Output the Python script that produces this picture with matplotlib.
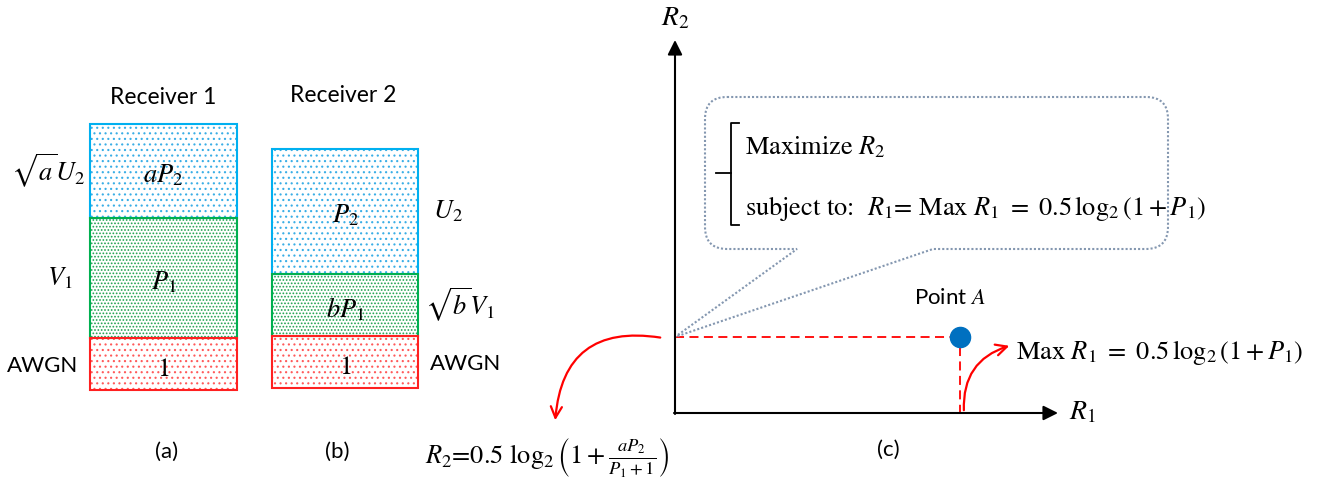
import matplotlib
matplotlib.use("Agg")
import matplotlib.pyplot as plt
from matplotlib.patches import Rectangle, PathPatch, FancyArrowPatch
from matplotlib.path import Path

plt.rcParams['mathtext.fontset'] = 'stix'
plt.rcParams['font.family'] = ['Lato', 'DejaVu Sans']
plt.rcParams['hatch.linewidth'] = 0.8

# stacked power boxes (pixel rows of the drawing, top to bottom)
rx1_edges = [124, 218, 338, 390]
rx1_labels = [r'$aP_2$', r'$P_1$', r'$1$']
rx1_side = [r'$\sqrt{a}U_2$', r'$V_1$', 'AWGN']
rx2_edges = [149, 274, 336, 388]
rx2_labels = [r'$P_2$', r'$bP_1$', r'$1$']
rx2_side = [r'$U_2$', r'$\sqrt{b}V_1$', 'AWGN']

edge_cols = ['#00B0F0', '#00B050', '#FF2020']
dot_cols = ['#3AAEE6', '#1FA050', '#FF5A5A']
hatches = ['...', '.....', '...']

serif = ['STIXGeneral', 'DejaVu Serif']

fig = plt.figure(figsize=(13.26, 4.86), dpi=100)
ax = fig.add_axes([0, 0, 1, 1])
ax.set_xlim(0, 1326)
ax.set_ylim(486, 0)
ax.axis('off')


def draw_stack(x0, x1, edges, labels, sides, side_x):
    for i in range(3):
        y0, y1 = edges[i], edges[i + 1]
        ax.add_patch(Rectangle((x0, y0), x1 - x0, y1 - y0, facecolor='white',
                               edgecolor=dot_cols[i], hatch=hatches[i], lw=0))
    for i in range(3):
        y0, y1 = edges[i], edges[i + 1]
        ax.add_patch(Rectangle((x0, y0), x1 - x0, y1 - y0, facecolor='none',
                               edgecolor=edge_cols[i], lw=1.5, zorder=3))
        cy = (y0 + y1) / 2 + 4
        ax.text((x0 + x1) / 2, cy, labels[i], fontsize=19, ha='center', va='center', zorder=4)
        if sides[i] == 'AWGN':
            ax.text(side_x[i], cy - 2, sides[i], fontsize=16, ha='center', va='center')
        else:
            ax.text(side_x[i], cy - 4, sides[i], fontsize=19, ha='center', va='center')


draw_stack(90, 237, rx1_edges, rx1_labels, rx1_side, [48, 60, 43])
draw_stack(272, 418, rx2_edges, rx2_labels, rx2_side, [448, 460, 466])

ax.text(163, 97, 'Receiver 1', fontsize=16.5, ha='center', va='center')
ax.text(343, 95, 'Receiver 2', fontsize=16.5, ha='center', va='center')
ax.text(167, 452, '(a)', fontsize=16, ha='center', va='center')
ax.text(337, 452, '(b)', fontsize=16, ha='center', va='center')
ax.text(888, 450, '(c)', fontsize=16, ha='center', va='center')

# rate region axes
ox, oy = 675, 413
ax.annotate('', xy=(ox, 40), xytext=(ox, oy + 1),
            arrowprops=dict(arrowstyle='-|>', color='black', lw=1.5, mutation_scale=22,
                            shrinkA=0, shrinkB=0))
ax.annotate('', xy=(1058, oy), xytext=(ox - 1, oy),
            arrowprops=dict(arrowstyle='-|>', color='black', lw=1.5, mutation_scale=22,
                            shrinkA=0, shrinkB=0))
ax.text(675, 18, r'$R_2$', fontsize=20, ha='center', va='center')
ax.text(1082, 412, r'$R_1$', fontsize=20, ha='center', va='center')

# point A
point_a = (960, 337)
ax.plot([ox, point_a[0] - 10], [point_a[1], point_a[1]], color='red', ls='--', lw=1.3, dashes=(5, 3))
ax.plot([point_a[0], point_a[0]], [point_a[1] + 10, oy], color='red', ls='--', lw=1.3, dashes=(5, 3))
ax.plot([point_a[0]], [point_a[1]], 'o', color='#0070C0', markersize=14.5, zorder=5)
ax.text(950, 298, r'Point $A$', fontsize=16, ha='center', va='center')

# curved red arrows
ax.add_patch(FancyArrowPatch((663, 338), (555, 423), connectionstyle='arc3,rad=0.55',
                             arrowstyle='->', mutation_scale=20, color='red', lw=1.6))
ax.add_patch(FancyArrowPatch((964, 413), (1012, 345), connectionstyle='arc3,rad=-0.4',
                             arrowstyle='->', mutation_scale=20, color='red', lw=1.6))
ax.text(1016, 352, r'Max $R_1\ =\ 0.5\,\log_2(1+P_1)$', fontsize=19,
        family=serif, ha='left', va='center')
ax.text(425, 457, r'$R_2$=0.5 $\log_2\left(1+\frac{aP_2}{P_1+1}\right)$', fontsize=19,
        family=serif, ha='left', va='center')

# callout box with tail
l, r, t, b, rad = 705, 1168, 97, 249, 22
verts = [(l + rad, t), (r - rad, t), (r, t), (r, t + rad), (r, b - rad), (r, b), (r - rad, b),
         (933, b), (ox, point_a[1]), (797, b), (l + rad, b), (l, b), (l, b - rad),
         (l, t + rad), (l, t), (l + rad, t)]
codes = [Path.MOVETO, Path.LINETO, Path.CURVE3, Path.CURVE3, Path.LINETO, Path.CURVE3, Path.CURVE3,
         Path.LINETO, Path.LINETO, Path.LINETO, Path.LINETO, Path.CURVE3, Path.CURVE3,
         Path.LINETO, Path.CURVE3, Path.CURVE3]
ax.add_patch(PathPatch(Path(verts, codes), facecolor='white', edgecolor='#8497B0',
                       lw=1.5, ls=(0, (1, 1)), zorder=2))

# brace
ax.plot([739, 731, 731, 739], [123, 123, 225, 225], color='black', lw=1.3, zorder=3)
ax.plot([716, 731], [173, 173], color='black', lw=1.3, zorder=3)
ax.text(745, 148, r'Maximize $R_2$', fontsize=19, family=serif,
        ha='left', va='center', zorder=4)
ax.text(745, 208, r'subject to:  $R_1$= Max $R_1\ =\ 0.5\,\log_2(1+P_1)$',
        fontsize=19, family=serif, ha='left', va='center', zorder=4)

fig.savefig('out.png', dpi=100)
